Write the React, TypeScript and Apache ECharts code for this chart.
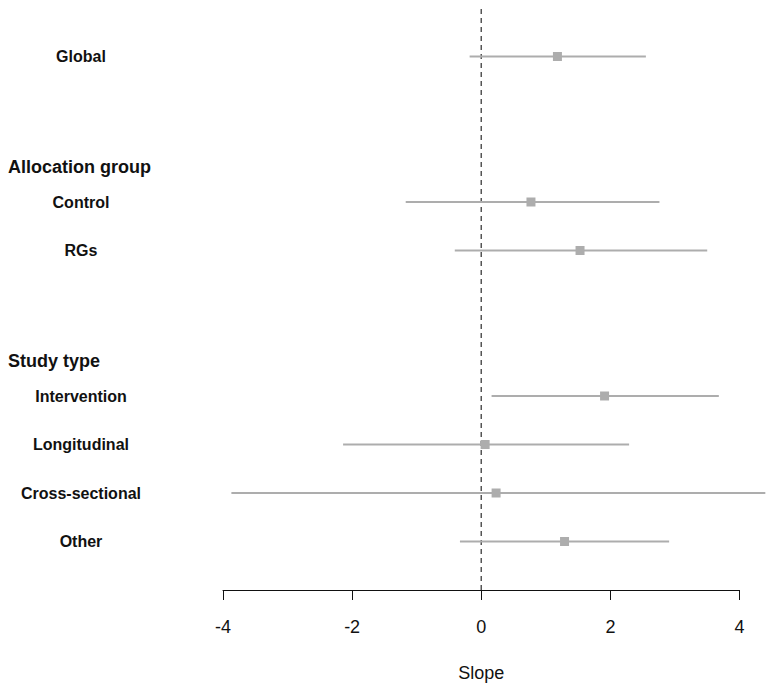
import React, { useEffect, useRef } from "react";
import * as echarts from "echarts";

const labels = ["Global", "Control", "RGs", "Intervention", "Longitudinal", "Cross-sectional", "Other"];
const rows = [11, 8, 7, 4, 3, 2, 1];
const estimates = [1.18, 0.77, 1.53, 1.91, 0.06, 0.23, 1.29];
const lower = [-0.18, -1.17, -0.41, 0.16, -2.14, -3.87, -0.33];
const upper = [2.55, 2.76, 3.5, 3.68, 2.29, 4.4, 2.91];
const headers = ["Allocation group", "Study type"];
const headerRows = [8.72, 4.72];
const xMin = -4;
const xMax = 4;
const xInterval = 2;
const xTitle = "Slope";

const FONT = '"Liberation Sans", Arial, Helvetica, sans-serif';

export default function App() {
  const ref = useRef<HTMLDivElement>(null);
  useEffect(() => {
    if (!ref.current) return;
    const chart = echarts.init(ref.current, undefined, { renderer: "svg" });
    const barData = labels.map((_, i) => [lower[i], upper[i], estimates[i], rows[i]]);
    const labelData = labels.map((_, i) => [0, rows[i], i]);
    const headerData = headers.map((_, i) => [0, headerRows[i], i]);
    chart.setOption({
      animation: false,
      backgroundColor: "#ffffff",
      textStyle: { fontFamily: FONT },
      grid: { left: 223, right: 31.5, top: 8, bottom: 100 },
      xAxis: {
        type: "value",
        min: xMin,
        max: xMax,
        interval: xInterval,
        name: xTitle,
        nameLocation: "middle",
        nameGap: 74,
        nameTextStyle: { fontSize: 18, color: "#111", fontFamily: FONT },
        axisLine: { show: true, onZero: false, lineStyle: { color: "#111", width: 1 } },
        axisTick: { show: true, length: 10, lineStyle: { color: "#111", width: 1 } },
        axisLabel: { fontSize: 18, color: "#111", margin: 28, fontFamily: FONT },
        splitLine: { show: false },
      },
      yAxis: {
        type: "value",
        min: 0,
        max: 12,
        show: false,
        splitLine: { show: false },
      },
      series: [
        {
          type: "line",
          data: [[0, 0], [0, 12]],
          symbol: "none",
          silent: true,
          lineStyle: { color: "#555", width: 1.5, type: [5, 4] },
          z: 1,
        },
        {
          type: "custom",
          data: barData,
          encode: { x: [0, 1, 2], y: 3 },
          z: 2,
          renderItem: (params: any, api: any) => {
            const lo = api.coord([api.value(0), api.value(3)]);
            const hi = api.coord([api.value(1), api.value(3)]);
            const c = api.coord([api.value(2), api.value(3)]);
            return {
              type: "group",
              children: [
                {
                  type: "line",
                  shape: { x1: lo[0], y1: lo[1], x2: hi[0], y2: hi[1] },
                  style: { stroke: "#adadad", lineWidth: 2 },
                },
                {
                  type: "rect",
                  shape: { x: c[0] - 4.5, y: c[1] - 4.5, width: 9, height: 9 },
                  style: { fill: "#adadad" },
                },
              ],
            };
          },
        },
        {
          type: "custom",
          data: labelData,
          encode: { x: 0, y: 1 },
          z: 3,
          renderItem: (params: any, api: any) => {
            const p = api.coord([0, api.value(1)]);
            const idx = api.value(2);
            return {
              type: "text",
              style: {
                text: labels[idx],
                x: 81,
                y: p[1],
                align: "center",
                verticalAlign: "middle",
                fontSize: 16,
                fontWeight: "bold",
                fontFamily: FONT,
                fill: "#111",
              },
            };
          },
        },
        {
          type: "custom",
          data: headerData,
          encode: { x: 0, y: 1 },
          z: 3,
          renderItem: (params: any, api: any) => {
            const p = api.coord([0, api.value(1)]);
            const idx = api.value(2);
            return {
              type: "text",
              style: {
                text: headers[idx],
                x: 8,
                y: p[1],
                align: "left",
                verticalAlign: "middle",
                fontSize: 18,
                fontWeight: "bold",
                fontFamily: FONT,
                fill: "#111",
              },
            };
          },
        },
      ],
    });
    return () => chart.dispose();
  }, []);
  return (
    <div
      ref={ref}
      style={{ position: "absolute", left: 0, top: 0, width: 771, height: 690 }}
    />
  );
}
